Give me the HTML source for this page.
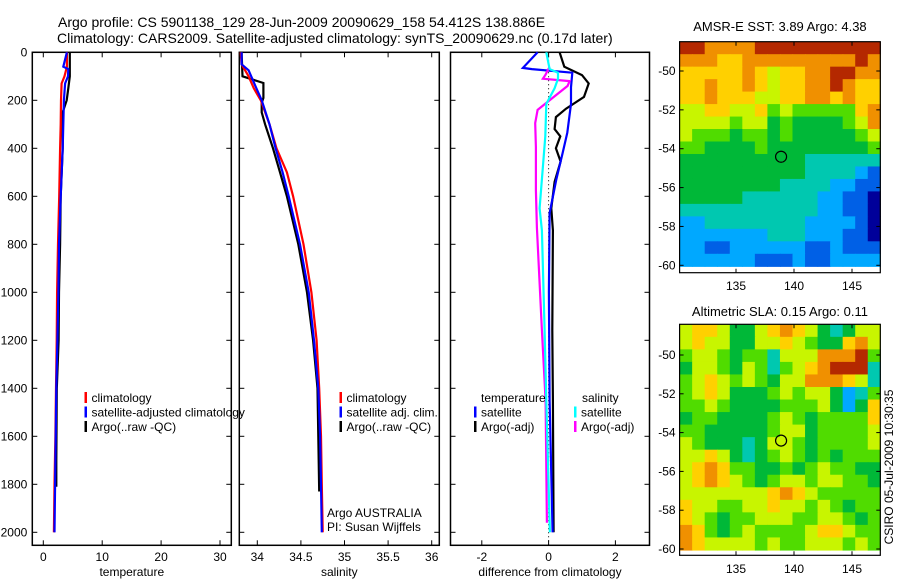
<!DOCTYPE html>
<html><head><meta charset="utf-8"><style>
html,body{margin:0;padding:0;background:#fff;}
svg{display:block;font-family:"Liberation Sans",Arial,sans-serif;}
</style></head><body>
<svg id="fig" width="900" height="580" viewBox="0 0 900 580" xmlns="http://www.w3.org/2000/svg">
<text x="58" y="27" font-size="14">Argo profile: CS 5901138_129 28-Jun-2009 20090629_158 54.412S 138.886E</text>
<text x="57" y="43" font-size="14">Climatology: CARS2009. Satellite-adjusted climatology: synTS_20090629.nc (0.17d later)</text>
<g id="p1"></g>
<g id="p2"></g>
<g id="p3"></g>
<g id="m1"></g>
<g id="m2"></g>
<text transform="translate(893,467) rotate(-90)" text-anchor="middle" font-size="12">CSIRO 05-Jul-2009 10:30:35</text>
</svg>
<script>
// ---- data ----
const tDepth = [0,60,70,100,130,200,300,400,600,800,1000,1200,1400,1600,1800,2000];
const tClim  = [4.0,4.0,3.9,3.6,3.1,3.0,2.95,2.85,2.7,2.5,2.35,2.27,2.15,2.05,1.9,1.8];
const tSat   = [4.0,3.4,4.25,4.2,3.7,3.5,3.4,3.3,2.95,2.67,2.57,2.4,2.2,2.1,2.0,1.9];
const tArgoDepth = [0,100,150,200,250,400,600,800,1000,1200,1400,1700,1810];
const tArgo  = [4.5,4.5,4.25,3.97,3.3,3.3,2.95,2.85,2.67,2.6,2.3,2.2,2.2];
const sDepth = [0,50,75,100,150,200,300,400,500,600,800,1000,1200,1400,1600,1800,2000];
const sClim  = [33.81,33.82,33.86,33.9,33.96,34.04,34.14,34.22,34.34,34.41,34.53,34.62,34.68,34.71,34.73,34.74,34.75];
const sSat   = [33.82,33.82,33.9,33.93,33.99,34.05,34.14,34.21,34.29,34.36,34.49,34.59,34.65,34.7,34.72,34.73,34.74];
const sArgoDepth = [0,100,128,150,190,210,250,300,400,500,600,800,1000,1200,1400,1600,1830];
const sArgo  = [33.82,33.83,34.07,34.07,34.07,34.05,34.05,34.09,34.18,34.26,34.34,34.47,34.57,34.64,34.69,34.70,34.71];
const dDepth = [0,65,70,85,146,215,335,420,530,670,1000,1450,2000];
const dTSat  = [-0.33,-0.77,-0.5,0.71,0.67,0.67,0.56,0.42,0.23,0.03,0.01,0.03,0.12];
const dTArgoDepth = [0,60,95,130,186,235,270,320,350,400,455,540,650,742,1158,1450,2000];
const dTArgo = [0.33,0.47,1.0,1.2,1.06,0.52,0.22,0.18,0.35,0.22,0.36,0.18,0.08,0.13,0.11,0.13,0.15];
const dSDepth = [0,70,85,110,150,215,350,650,742,1158,1450,2000];
const dSSat  = [-0.07,0.03,0.28,0.28,0.18,-0.07,-0.1,-0.27,-0.2,-0.12,-0.07,0.04];
const dSArgoDepth = [60,95,110,120,140,190,240,295,395,575,730,1158,1450,1960];
const dSArgo = [0.03,-0.1,-0.17,0.63,0.57,0.12,-0.33,-0.4,-0.38,-0.38,-0.35,-0.2,-0.09,-0.05];
const depthTicks = [0,200,400,600,800,1000,1200,1400,1600,1800,2000];
const tTicks = [0,10,20,30];
const sTicks = [34,34.5,35,35.5,36];
const sTickLabels = ["34","34.5","35","35.5","36"];
const dTicks = [-2,0,2];
const sstGrid = [
"9988889999999999","8887788888888898","7777787677889988","7787787677889877",
"7787776677887877","6677667565555578","6666566454444568","6555455454444456",
"5544445444444445","4444444444333333","4444444444333321","4444444433332211",
"4444433333322110","3333333333322110","2233333333222210","2222222333222110",
"2211222222112111","2222221112112222"];
const slaGrid = [
"6776446787643466","6766446676544786","5665455366688895","4665465356789993",
"5676565466888763","5676444565664235","5565444455564247","4554444565455557",
"5544444566455556","6544434665455556","6676434565454555","6787554454565544",
"6787654566566554","6666666787655555","7665566766565455","7654556665566545",
"8754565555677655","8766665655666565"];
const lonTicks = [135,140,145];
const sstLatTicks = [-50,-52,-54,-56,-58,-60];
const argoLon = 138.886, argoLat = -54.412;

// ---- helpers ----
const NS="http://www.w3.org/2000/svg";
function mk(parent, tag, attrs){const e=document.createElementNS(NS,tag);for(const k in attrs)e.setAttribute(k,attrs[k]);parent.appendChild(e);return e;}
const yD = d => 52.3 + 0.24*d;
const Y0=52.3, Y1=545.3;
function axesBox(g, x0, x1, xScale, xt, xtl, xlabel, leftLabels){
  const b = mk(g,'rect',{x:x0,y:Y0,width:x1-x0,height:Y1-Y0,fill:'none',stroke:'#000','stroke-width':1.5});
  
  
  depthTicks.forEach(d=>{
    const y=yD(d);
    mk(g,'line',{x1:x0,x2:x0+5,y1:y,y2:y,stroke:'#000'});
    mk(g,'line',{x1:x1-5,x2:x1,y1:y,y2:y,stroke:'#000'});
    if(leftLabels){const t=mk(g,'text',{x:x0-5,y:y+4,'font-size':12,'text-anchor':'end'});t.textContent=d;
      
      }
  });
  xt.forEach((v,i)=>{
    const x=xScale(v);
    mk(g,'line',{x1:x,x2:x,y1:Y0,y2:Y0+5,stroke:'#000'});
    mk(g,'line',{x1:x,x2:x,y1:Y1-5,y2:Y1,stroke:'#000'});
    const t=mk(g,'text',{x:x,y:561,'font-size':12,'text-anchor':'middle'});t.textContent=xtl[i];
    
    
  });
  const l=mk(g,'text',{x:(x0+x1)/2,y:576,'font-size':12,'text-anchor':'middle'});l.textContent=xlabel;
  
  
}
function profile(g, depths, vals, xScale, color, name){
  const pts=depths.map((d,i)=>xScale(vals[i]).toFixed(1)+','+yD(d).toFixed(1)).join(' ');
  const p=mk(g,'polyline',{points:pts,fill:'none',stroke:color,'stroke-width':2.2});
  
  
}
function legend(g, x, y, entries){
  entries.forEach((e,i)=>{
    const yy=y+i*14.5;
    mk(g,'rect',{x:x,y:yy-10,width:2.5,height:11,fill:e[0]});
    const t=mk(g,'text',{x:x+7,y:yy,'font-size':12});t.textContent=e[1];
    
    
  });
}
// ---- panel 1 ----
const p1=document.getElementById('p1');
const xT = v => 43.3 + 5.89*v;
axesBox(p1,32.3,231.3,xT,tTicks,tTicks.map(String),'temperature',true);
profile(p1,tArgoDepth,tArgo,xT,'#000','argo-temperature-line');
profile(p1,tDepth,tClim,xT,'#f00','climatology-temperature-line');
profile(p1,tDepth,tSat,xT,'#00f','satellite-temperature-line');
legend(p1,84.5,402,[['#f00','climatology'],['#00f','satellite-adjusted climatology'],['#000','Argo(..raw -QC)']]);
// ---- panel 2 ----
const p2=document.getElementById('p2');
const xS = v => 257.3 + 87.2*(v-34);
axesBox(p2,239.3,439.3,xS,sTicks,sTickLabels,'salinity',false);
profile(p2,sArgoDepth,sArgo,xS,'#000','argo-salinity-line');
profile(p2,sDepth,sClim,xS,'#f00','climatology-salinity-line');
profile(p2,sDepth,sSat,xS,'#00f','satellite-salinity-line');
legend(p2,339.5,402,[['#f00','climatology'],['#00f','satellite adj. clim.'],['#000','Argo(..raw -QC)']]);
let t=mk(p2,'text',{x:327,y:517,'font-size':12});t.textContent='Argo AUSTRALIA';


t=mk(p2,'text',{x:327,y:531,'font-size':12});t.textContent='PI: Susan Wijffels';


// ---- panel 3 ----
const p3=document.getElementById('p3');
const xDf = v => 548.6 + 33.4*v;
axesBox(p3,450.5,649.5,xDf,dTicks,dTicks.map(String),'difference from climatology',false);
mk(p3,'line',{x1:xDf(0),x2:xDf(0),y1:Y0,y2:Y1,stroke:'#000','stroke-dasharray':'1,3'});
profile(p3,dTArgoDepth,dTArgo,xDf,'#000','argo-temp-diff-line');
profile(p3,dDepth,dTSat,xDf,'#00f','satellite-temp-diff-line');
profile(p3,dSArgoDepth,dSArgo,xDf,'#f0f','argo-sal-diff-line');
profile(p3,dSDepth,dSSat,xDf,'#0ff','satellite-sal-diff-line');
t=mk(p3,'text',{x:481,y:402,'font-size':12});t.textContent='temperature';


t=mk(p3,'text',{x:582,y:402,'font-size':12});t.textContent='salinity';


legend(p3,474,416.5,[['#00f','satellite'],['#000','Argo(-adj)']]);
legend(p3,574,416.5,[['#0ff','satellite'],['#f0f','Argo(-adj)']]);
// ---- maps ----
const jet=['#00009a','#0060e6','#00a8ff','#00c8b0','#00b838','#50dc00','#c8f500','#ffd000','#f09000','#b42800'];
function map(g, top, latAt50, latAt60, grid, title, titleY, lonLabelY){
  const x0=679.6,x1=880.3,bottom=top+231;
  const lonX = v => 794 + 11.6*(v-140);
  const latY = v => latAt50 + (latAt60-latAt50)*(( -50 - v)/10);
  const imgBottom = latY(-60.05);
  const rows=grid.length, cols=grid[0].length;
  const ch=(imgBottom-top)/rows, cw=(x1-x0)/cols;
  grid.forEach((row,r)=>{for(let c=0;c<cols;c++){
    const cell=mk(g,'rect',{x:(x0+c*cw).toFixed(2),y:(top+r*ch).toFixed(2),width:(cw+0.6).toFixed(2),height:(ch+0.6).toFixed(2),fill:jet[+row[c]]});
    
    
  }});
  const b=mk(g,'rect',{x:x0,y:top,width:x1-x0,height:bottom-top,fill:'none',stroke:'#000','stroke-width':1.2});
  
  
  sstLatTicks.forEach(v=>{const y=latY(v);
    mk(g,'line',{x1:x0,x2:x0+4,y1:y,y2:y,stroke:'#000'});
    mk(g,'line',{x1:x1-4,x2:x1,y1:y,y2:y,stroke:'#000'});
    const l=mk(g,'text',{x:x0-4,y:y+4,'font-size':12,'text-anchor':'end'});l.textContent=v;
    
    });
  lonTicks.forEach(v=>{const x=lonX(v);
    mk(g,'line',{x1:x,x2:x,y1:top,y2:top+4,stroke:'#000'});
    mk(g,'line',{x1:x,x2:x,y1:bottom-4,y2:bottom,stroke:'#000'});
    const l=mk(g,'text',{x:x,y:lonLabelY,'font-size':12,'text-anchor':'middle'});l.textContent=v;
    
    });
  const c=mk(g,'circle',{cx:lonX(argoLon),cy:latY(argoLat),r:5.5,fill:'none',stroke:'#000','stroke-width':1.2});
  
  
  const tt=mk(g,'text',{x:(x0+x1)/2,y:titleY,'font-size':13,'text-anchor':'middle'});tt.textContent=title;
  
  
}
map(document.getElementById('m1'),41.7,71,265.3,sstGrid,'AMSR-E SST: 3.89 Argo: 4.38',31,290);
map(document.getElementById('m2'),324.3,355,549,slaGrid,'Altimetric SLA: 0.15 Argo: 0.11',316,573);
</script>
</body></html>
